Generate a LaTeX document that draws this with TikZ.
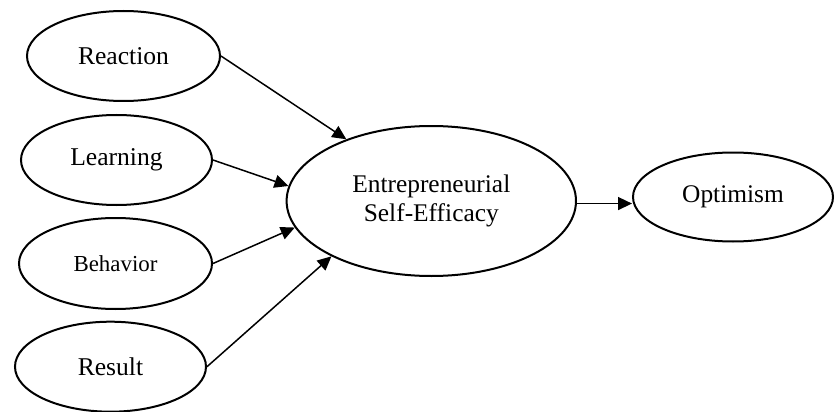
\documentclass[tikz,border=0pt]{standalone}
\usepackage{fontspec}
\setmainfont{Liberation Serif}
\usetikzlibrary{shapes.geometric,arrows.meta}
\begin{document}
\begin{tikzpicture}[x=1pt,y=-1pt,
  oval/.style={draw,line width=2pt,ellipse,inner sep=0pt,minimum width=192pt,minimum height=90pt,font=\fontsize{25.6}{28.5}\selectfont},
  conn/.style={line width=1.5pt,-{Triangle[length=14pt,width=13pt]}}]
\useasboundingbox (0,0) rectangle (836,412);
\node[oval,minimum width=193pt] (rea) at (123.5,56) {Reaction};
\node[oval,minimum width=191pt] (lea) at (116.5,160) {Learning};
\node[oval,minimum width=193pt,minimum height=91pt,font=\fontsize{22.9}{26}\selectfont] (beh) at (115.5,263.5) {Behavior};
\node[oval,minimum width=191pt] (res) at (110.5,366.7) {Result};
\node[oval,minimum width=289.4pt,minimum height=150pt,align=center,font=\fontsize{25.4}{28.5}\selectfont] (ese) at (431.3,201) {Entrepreneurial\\Self-Efficacy};
\node[oval,minimum width=200pt,minimum height=89pt,font=\fontsize{25.4}{28.5}\selectfont] (opt) at (733,197) {Optimism};
\draw[conn] (rea.east) -- (ese.144.8);
\draw[conn] (lea.east) -- (ese.174.5);
\draw[conn] (beh.east) -- (ese.191.4);
\draw[conn] (res.east) -- (ese.209.8);
\draw[conn] (ese.-1.6) -- (ese.-1.6 -| opt.west);
\end{tikzpicture}
\end{document}
